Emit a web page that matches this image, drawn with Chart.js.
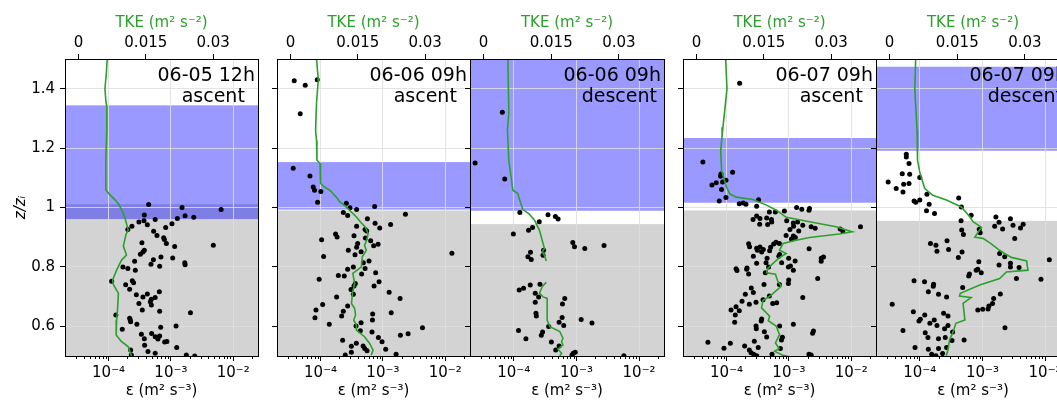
<!DOCTYPE html>
<html>
<head>
<meta charset="utf-8">
<script src="https://cdn.jsdelivr.net/npm/chart.js@4.4.0/dist/chart.umd.min.js"></script>
<style>
  html, body { margin: 0; padding: 0; background: #fff; }
  body { width: 1057px; height: 404px; overflow: hidden; position: relative; }
  .panel { position: absolute; top: 0; height: 404px; }
</style>
</head>
<body>
<script>
// ---- data ----
const dates = ['06-05 12h', '06-06 09h', '06-06 09h', '06-07 09h', '06-07 09h'];
const legs = ['ascent', 'ascent', 'descent', 'ascent', 'descent'];

// z/zi of the shaded layers
const grayTop = [1.011, 0.990, 0.944, 0.990, 0.955];
const blueBottom = [0.961, 0.993, 0.989, 1.016, 1.191];
const blueTop = [1.344, 1.153, 1.5, 1.234, 1.474];

const epsTicks = [1e-4, 1e-3, 1e-2];
const epsTickLabels = ['10⁻⁴', '10⁻³', '10⁻²'];
const tkeTicks = [0, 0.015, 0.03];
const tkeTickLabels = ['0', '0.015', '0.03'];
const zTicks = [0.6, 0.8, 1.0, 1.2, 1.4];
const zTickLabels = ['0.6', '0.8', '1', '1.2', '1.4'];
const minorMult = [2, 3, 4, 5, 6, 7, 8, 9];

// dissipation rate [eps, z/zi]
const eps1 = [[4.4e-4,1.010],[1.51e-3,1.000],[6.4e-3,0.993],[3.75e-4,0.975],[1.69e-3,0.972],[2.33e-3,0.967],[1.27e-3,0.963],[5.6e-4,0.960],[3.7e-4,0.955],[3.07e-4,0.951],[1.04e-3,0.945],[4.19e-4,0.942],[2.37e-4,0.937],[8.25e-4,0.933],[2.04e-4,0.926],[5.29e-4,0.920],[5.98e-4,0.906],[7.66e-4,0.898],[7.87e-4,0.892],[8.47e-4,0.879],[3.43e-4,0.881],[1.15e-3,0.869],[4.8e-3,0.873],[3.75e-4,0.856],[3.56e-4,0.850],[3.24e-4,0.843],[6.93e-4,0.833],[5.24e-4,0.824],[1.07e-3,0.830],[2.62e-4,0.819],[1.67e-3,0.814],[1.69e-3,0.807],[4.79e-4,0.809],[6.61e-4,0.802],[1.70e-4,0.800],[2.04e-4,0.795],[2.69e-4,0.789],[1.12e-4,0.752],[2.40e-4,0.753],[2.52e-4,0.747],[1.88e-4,0.740],[2.18e-4,0.725],[6.53e-4,0.716],[2.79e-4,0.706],[4.19e-4,0.709],[3.56e-4,0.699],[5.6e-4,0.697],[4.86e-4,0.691],[4.68e-4,0.683],[3.07e-4,0.677],[4.86e-4,0.672],[3.48e-4,0.655],[6.61e-4,0.651],[2.06e-3,0.646],[1.31e-4,0.638],[2.18e-4,0.627],[2.23e-4,0.621],[2.26e-4,0.615],[2.85e-4,0.607],[6.86e-4,0.597],[1.21e-3,0.601],[1.66e-4,0.590],[3.36e-4,0.573],[4.91e-4,0.576],[5.6e-4,0.565],[5.98e-4,0.563],[6.21e-4,0.557],[6.61e-4,0.567],[3.75e-4,0.558],[7.94e-4,0.547],[8.65e-4,0.549],[3.79e-4,0.536],[2.26e-4,0.520],[1.24e-3,0.529],[4.29e-4,0.515],[5.6e-4,0.509],[1.77e-3,0.503],[2.41e-3,0.500],[2.32e-4,0.503]];
const eps2 = [[3.78e-5,1.427],[5.68e-5,1.412],[8.85e-5,1.430],[4.72e-5,1.316],[3.64e-5,1.132],[6.76e-5,1.106],[7.63e-5,1.069],[8.0e-5,1.058],[1.01e-4,1.054],[8.95e-5,1.018],[2.59e-4,1.014],[2.97e-4,0.999],[3.79e-4,0.993],[7.38e-4,1.003],[2.32e-4,0.983],[2.72e-4,0.973],[2.30e-3,0.977],[5.64e-4,0.962],[7.5e-4,0.947],[8.89e-4,0.931],[1.33e-3,0.943],[3.79e-4,0.937],[5.18e-4,0.926],[5.5e-4,0.921],[1.74e-4,0.911],[1.84e-4,0.901],[3.44e-4,0.905],[5.24e-4,0.897],[6.37e-4,0.888],[3.94e-4,0.879],[3.79e-4,0.866],[7.11e-4,0.871],[8.38e-4,0.876],[1.04e-4,0.891],[2.79e-4,0.856],[4.47e-4,0.851],[3.57e-4,0.841],[1.12e-4,0.835],[6.0e-4,0.820],[4.86e-4,0.814],[1.28e-2,0.846],[3.36e-4,0.800],[2.72e-4,0.792],[5.18e-4,0.795],[7.66e-4,0.780],[4.56e-4,0.776],[1.93e-4,0.771],[2.40e-4,0.769],[9.5e-5,0.758],[8.69e-4,0.750],[7.22e-4,0.736],[3.61e-4,0.744],[3.44e-4,0.736],[3.08e-4,0.724],[1.26e-3,0.715],[3.36e-4,0.708],[1.81e-4,0.699],[1.89e-3,0.694],[1.08e-4,0.673],[2.72e-4,0.668],[2.32e-4,0.651],[8.43e-5,0.655],[1.36e-3,0.646],[6.86e-4,0.641],[2.18e-4,0.635],[8.13e-5,0.629],[6.8e-4,0.621],[1.38e-4,0.607],[4.47e-4,0.612],[3.71e-4,0.601],[4.32e-3,0.595],[4.35e-4,0.585],[6.7e-4,0.581],[2.54e-3,0.575],[1.91e-3,0.570],[8.47e-4,0.562],[2.26e-4,0.553],[9.7e-4,0.548],[3.75e-4,0.543],[3.12e-4,0.533],[4.81e-4,0.534],[5.1e-4,0.525],[1.11e-3,0.523],[3.12e-4,0.513],[5.57e-4,0.518],[1.63e-3,0.506],[2.49e-4,0.503]];
const eps3 = [[6.56e-5,1.321],[2.41e-5,1.150],[7.17e-5,1.096],[1.25e-4,0.983],[3.52e-4,0.976],[4.61e-4,0.970],[5.1e-4,0.961],[2.55e-4,0.952],[1.99e-4,0.933],[1.72e-4,0.923],[9.85e-5,0.911],[8.75e-4,0.882],[9.31e-4,0.868],[1.36e-3,0.862],[2.76e-3,0.872],[2.99e-4,0.856],[1.85e-4,0.849],[2.93e-4,0.839],[1.68e-4,0.834],[1.9e-4,0.825],[1.22e-4,0.722],[1.43e-4,0.728],[1.83e-4,0.739],[2.62e-4,0.742],[2.2e-4,0.711],[2.49e-4,0.699],[2.2e-4,0.681],[6.51e-4,0.694],[5.98e-4,0.675],[2.26e-4,0.644],[2.29e-4,0.635],[5.91e-4,0.630],[5.29e-4,0.614],[6.27e-4,0.603],[1.19e-3,0.623],[1.77e-3,0.611],[3.6e-4,0.599],[1.19e-4,0.586],[2.88e-4,0.581],[2.75e-4,0.570],[1.56e-4,0.558],[3.98e-4,0.547],[5.29e-4,0.534],[4.67e-4,0.520],[8.89e-4,0.509],[9.57e-4,0.513],[5.72e-3,0.501],[8.5e-4,0.503]];
const eps4 = [[1.62e-4,1.418],[4.17e-5,1.153],[1.25e-4,1.119],[8.13e-5,1.113],[8.0e-5,1.105],[9.78e-5,1.092],[8.63e-5,1.086],[6.83e-5,1.083],[5.82e-5,1.076],[8.31e-5,1.061],[9.78e-5,1.034],[7.63e-5,1.022],[1.6e-4,1.013],[1.85e-4,1.015],[2.05e-4,1.011],[3.27e-4,1.026],[3.04e-4,1.004],[4.86e-4,0.985],[8.47e-4,0.988],[6.07e-4,0.985],[1.33e-3,1.000],[1.61e-3,0.994],[2.14e-3,0.997],[2.1e-3,0.991],[3.04e-4,0.971],[2.66e-4,0.960],[3.44e-4,0.963],[4.4e-4,0.965],[5.24e-4,0.960],[3.4e-4,0.944],[4.56e-4,0.943],[5.3e-4,0.951],[9.22e-4,0.955],[1.18e-3,0.948],[1.38e-3,0.951],[1.19e-3,0.937],[1.67e-3,0.940],[1.44e-3,0.921],[1.04e-3,0.926],[2.28e-3,0.935],[2.64e-3,0.930],[1.18e-3,0.904],[1.27e-3,0.899],[9.02e-4,0.906],[1.1e-3,0.894],[6.65e-3,0.928],[7.33e-3,0.921],[1.41e-2,0.935],[6.22e-4,0.883],[7.04e-4,0.879],[5.7e-4,0.877],[2.26e-4,0.878],[2.34e-4,0.868],[3.04e-4,0.863],[3.44e-4,0.867],[3.12e-4,0.856],[3.89e-4,0.859],[5.1e-4,0.866],[3.66e-4,0.850],[4.91e-4,0.854],[2.11e-3,0.861],[2.69e-4,0.836],[4.47e-4,0.829],[7.11e-4,0.842],[6.9e-4,0.836],[9.93e-4,0.829],[3.04e-4,0.812],[4.3e-4,0.814],[4.73e-4,0.800],[7.66e-4,0.814],[1.06e-3,0.803],[3.3e-3,0.829],[3.59e-3,0.833],[1.42e-4,0.794],[2.13e-4,0.796],[9.82e-4,0.800],[1.26e-3,0.820],[3.3e-3,0.819],[1.47e-4,0.788],[2.1e-4,0.792],[2.26e-4,0.776],[4.19e-4,0.780],[1.18e-3,0.789],[2.9e-3,0.761],[9.93e-4,0.756],[9.82e-4,0.744],[7.04e-4,0.741],[3.99e-4,0.741],[2.49e-4,0.729],[2.69e-4,0.714],[2.0e-4,0.708],[4.86e-4,0.702],[1.67e-3,0.697],[1.77e-4,0.684],[2.32e-4,0.674],[2.97e-4,0.681],[3.85e-4,0.689],[1.42e-4,0.666],[1.18e-4,0.655],[1.6e-4,0.652],[1.38e-4,0.638],[1.35e-4,0.614],[3.66e-4,0.625],[3.6e-4,0.618],[5.5e-4,0.677],[6.37e-4,0.679],[2.97e-4,0.601],[3.0e-4,0.592],[4.04e-4,0.582],[4.4e-4,0.564],[7.11e-4,0.601],[1.18e-3,0.607],[2.48e-3,0.584],[2.4e-3,0.577],[7.87e-4,0.563],[7.6e-4,0.554],[2.79e-4,0.550],[1.95e-4,0.534],[5.02e-5,0.546],[1.15e-4,0.543],[9.08e-5,0.526],[2.32e-4,0.520],[2.47e-4,0.511],[3.22e-4,0.529],[7.3e-4,0.525],[2.72e-4,0.506],[2.1e-3,0.506],[2.28e-3,0.503],[5.37e-4,0.506],[3.04e-4,0.501]];
const eps5 = [[6.09e-5,1.179],[6.09e-5,1.170],[6.73e-5,1.148],[5.25e-5,1.114],[6.9e-5,1.112],[3.13e-5,1.086],[5.53e-5,1.078],[6.73e-5,1.081],[4.2e-5,1.064],[5.39e-5,1.052],[1.0e-4,1.101],[1.3e-4,1.045],[8.1e-5,1.022],[8.63e-5,1.018],[1.0e-4,1.025],[1.41e-4,1.011],[1.28e-4,0.989],[1.72e-4,0.980],[4.18e-4,1.032],[4.61e-4,1.002],[6.61e-4,0.974],[4.56e-4,0.955],[4.67e-4,0.924],[4.97e-4,0.909],[8.89e-4,0.927],[9.22e-4,0.915],[1.64e-3,0.968],[1.84e-3,0.950],[1.57e-3,0.937],[2.1e-3,0.928],[2.8e-3,0.962],[3.08e-3,0.940],[4.05e-3,0.931],[4.47e-3,0.944],[3.28e-3,0.896],[1.48e-4,0.879],[1.81e-4,0.873],[2.72e-4,0.888],[1.88e-4,0.853],[2.88e-4,0.859],[4.73e-4,0.850],[4.13e-4,0.832],[8.75e-4,0.817],[1.88e-3,0.845],[2.27e-3,0.834],[1.84e-3,0.806],[2.8e-3,0.812],[3.85e-3,0.798],[2.8e-3,0.800],[1.17e-2,0.824],[8.43e-4,0.792],[7.94e-4,0.789],[9.57e-4,0.780],[6.21e-4,0.776],[6.04e-4,0.769],[3.49e-3,0.761],[8.6e-3,0.758],[8.1e-5,0.753],[1.19e-4,0.750],[1.66e-4,0.742],[1.64e-4,0.735],[4.84e-4,0.731],[1.37e-4,0.716],[1.99e-4,0.708],[2.68e-4,0.699],[1.93e-3,0.709],[1.51e-3,0.694],[1.45e-3,0.677],[1.27e-3,0.668],[1.23e-3,0.658],[1.01e-3,0.657],[8.43e-4,0.655],[3.63e-5,0.674],[7.89e-5,0.649],[1.2e-4,0.638],[9.7e-5,0.618],[1.02e-4,0.624],[1.45e-4,0.610],[1.7e-4,0.621],[1.88e-4,0.603],[2.82e-4,0.635],[2.4e-4,0.644],[2.82e-4,0.603],[5.39e-5,0.586],[1.22e-4,0.578],[2.49e-4,0.592],[3.34e-4,0.581],[1.35e-4,0.562],[1.99e-4,0.558],[2.55e-4,0.562],[3.27e-4,0.552],[5.1e-4,0.554],[2.29e-3,0.595],[8.4e-5,0.529],[1.37e-4,0.523],[1.99e-4,0.525],[2.68e-4,0.529],[2.31e-4,0.508],[1.55e-4,0.506],[1.81e-4,0.501]];

// turbulent kinetic energy profile [TKE, z/zi]; null = gap
const tke1 = [[0.0064,1.50],[0.0062,1.45],[0.0059,1.40],[0.0061,1.36],[0.0063,1.34],[0.0063,1.26],[0.0061,1.16],[0.0061,1.06],[0.0066,1.05],[0.0072,1.04],[0.0082,1.025],[0.0090,1.01],[0.0097,0.99],[0.0104,0.963],[0.0108,0.94],[0.0111,0.924],[0.0106,0.91],[0.0100,0.87],[0.0107,0.84],[0.0096,0.823],[0.0085,0.789],[0.0076,0.756],[0.0078,0.74],[0.0089,0.711],[0.0087,0.655],[0.0085,0.62],[0.0084,0.571],[0.0095,0.55],[0.0111,0.531],[0.0118,0.50]];
const tke2 = [[0.0058,1.50],[0.0062,1.43],[0.0058,1.35],[0.0056,1.26],[0.0058,1.226],[0.0059,1.159],[0.0066,1.148],[0.0067,1.081],[0.0076,1.069],[0.0088,1.058],[0.0102,1.035],[0.0110,1.019],[0.0117,1.011],[0.0128,0.996],[0.0147,0.968],[0.0156,0.951],[0.0167,0.934],[0.0173,0.912],[0.0170,0.890],[0.0165,0.873],[0.0169,0.856],[0.0160,0.834],[0.0158,0.800],[0.0139,0.778],[0.0143,0.744],[0.0138,0.711],[0.0136,0.677],[0.0143,0.660],[0.0145,0.638],[0.0141,0.621],[0.0147,0.604],[0.0147,0.587],[0.0165,0.565],[0.0176,0.543],[0.0184,0.520],[0.0180,0.503]];
const tke3 = [[0.0054,1.50],[0.0056,1.32],[0.0053,1.26],[0.0056,1.159],[0.0065,1.058],[0.0076,1.047],[0.0078,1.035],[0.0087,0.993],[0.0101,0.979],[0.0113,0.957],[0.0124,0.923],[0.0130,0.890],[0.0135,0.862],[0.0130,0.851],[0.0135,0.839],[0.0139,0.820],null,[0.0139,0.748],[0.0130,0.733],[0.0124,0.711],[0.0132,0.699],[0.0141,0.694],[0.0141,0.655],[0.0141,0.621],[0.0147,0.599],[0.0169,0.582],[0.0176,0.560],[0.0173,0.548],[0.0176,0.537],[0.0165,0.523],[0.0173,0.509],[0.0169,0.501]];
const tke4 = [[0.0065,1.50],[0.0068,1.40],[0.0059,1.27],[0.0057,1.24],[0.0054,1.19],[0.0056,1.125],[0.0067,1.069],[0.0074,1.046],[0.0089,1.035],[0.0126,1.027],[0.0156,1.008],[0.0178,0.991],[0.0200,0.967],[0.0252,0.952],[0.0311,0.935],[0.0347,0.918],[0.0318,0.911],[0.0252,0.899],[0.0222,0.890],[0.0193,0.879],[0.0185,0.856],[0.0200,0.845],[0.0185,0.831],[0.0170,0.811],[0.0159,0.795],[0.0156,0.780],[0.0176,0.775],[0.0181,0.752],[0.0189,0.735],[0.0181,0.724],[0.0163,0.701],[0.0148,0.687],[0.0145,0.662],[0.0163,0.634],[0.0160,0.619],[0.0178,0.600],[0.0185,0.572],[0.0176,0.544],[0.0184,0.525],[0.0174,0.516],[0.0193,0.502],[0.0215,0.495]];
const tke5 = [[0.0058,1.50],[0.0056,1.40],[0.0061,1.26],[0.0061,1.19],[0.0063,1.159],[0.0067,1.119],[0.0078,1.064],[0.0096,1.041],[0.0126,1.025],[0.0159,1.002],[0.0178,0.969],[0.0185,0.952],[0.0204,0.933],[0.0200,0.924],[0.0189,0.900],[0.0207,0.896],[0.0224,0.879],[0.0244,0.856],[0.0255,0.845],[0.0270,0.832],[0.0304,0.820],[0.0305,0.806],[0.0307,0.789],[0.0259,0.783],[0.0244,0.761],[0.0200,0.739],[0.0157,0.711],[0.0155,0.702],[0.0181,0.697],[0.0163,0.677],[0.0167,0.621],[0.0147,0.610],[0.0141,0.582],[0.0133,0.554],[0.0130,0.526],[0.0126,0.501]];

const epsSets = [eps1, eps2, eps3, eps4, eps5];
const tkeSets = [tke1, tke2, tke3, tke4, tke5];

// ---- layout ----
const panelLeft = [65, 277, 470, 683, 876];
const panelWidth = [193, 193, 194, 193, 194];
const AXIS_W = 60;   // room for the y axis
const PAD_R = 8;
const H = 404;
const GREEN = '#2ca02c';
const GRID = 'rgba(222,222,222,0.85)';
const FONT = "'DejaVu Sans', sans-serif";

Chart.defaults.font.family = FONT;
Chart.defaults.color = '#000';

const tickFont = { size: 15 };

// bands, labels, frame and minor ticks
const panelDeco = {
    id: 'panelDeco',
    beforeDraw(chart, args, opts) {
        const i = opts.index;
        const { ctx, chartArea: a, scales: { y } } = chart;
        ctx.save();
        ctx.fillStyle = '#d3d3d3';
        const gy = y.getPixelForValue(grayTop[i]);
        ctx.fillRect(a.left, gy, a.right - a.left, a.bottom - gy);
        ctx.fillStyle = 'rgba(0,0,255,0.4)';
        const by1 = Math.max(a.top, y.getPixelForValue(blueTop[i]));
        const by0 = y.getPixelForValue(blueBottom[i]);
        ctx.fillRect(a.left, by1, a.right - a.left, by0 - by1);
        ctx.restore();
    },
    afterDatasetsDraw(chart, args, opts) {
        const i = opts.index;
        const { ctx, chartArea: a } = chart;
        ctx.save();
        ctx.font = '19px ' + FONT;
        ctx.fillStyle = '#000';
        ctx.textBaseline = 'alphabetic';
        const right = a.right - 3;
        const w1 = ctx.measureText(dates[i]).width;
        ctx.textAlign = 'right';
        ctx.fillText(dates[i], right, a.top + 22);
        ctx.textAlign = 'center';
        ctx.fillText(legs[i], right - w1 / 2 + 7, a.top + 43);
        ctx.restore();
    },
    afterDraw(chart) {
        const { ctx, chartArea: a, scales: { x } } = chart;
        ctx.save();
        ctx.strokeStyle = '#000';
        ctx.lineWidth = 1;
        // minor log ticks on the bottom axis
        ctx.beginPath();
        for (let d = -5; d <= -2; d++) {
            minorMult.forEach(m => {
                const v = m * Math.pow(10, d);
                if (v <= x.min || v >= x.max) return;
                const px = Math.round(x.getPixelForValue(v)) + 0.5;
                ctx.moveTo(px, a.bottom);
                ctx.lineTo(px, a.bottom + 3);
            });
        }
        ctx.stroke();
        ctx.strokeRect(Math.round(a.left) + 0.5, Math.round(a.top) + 0.5,
            Math.round(a.right - a.left), Math.round(a.bottom - a.top));
        ctx.restore();
    }
};

function makePanel(i) {
    const div = document.createElement('div');
    div.className = 'panel';
    const w = AXIS_W + panelWidth[i] + PAD_R;
    div.style.left = (panelLeft[i] - AXIS_W) + 'px';
    div.style.width = w + 'px';
    const canvas = document.createElement('canvas');
    canvas.width = w;
    canvas.height = H;
    canvas.style.width = w + 'px';
    canvas.style.height = H + 'px';
    div.appendChild(canvas);
    document.body.appendChild(div);

    const first = i === 0;

    new Chart(canvas, {
        type: 'scatter',
        data: {
            datasets: [
                {
                    label: 'TKE',
                    data: tkeSets[i].map(p => p ? { x: p[0], y: p[1] } : { x: null, y: null }),
                    xAxisID: 'x2',
                    yAxisID: 'y',
                    showLine: true,
                    spanGaps: false,
                    borderColor: GREEN,
                    borderWidth: 1.6,
                    pointRadius: 0,
                    tension: 0
                },
                {
                    label: 'eps',
                    data: epsSets[i].map(p => ({ x: p[0], y: p[1] })),
                    xAxisID: 'x',
                    yAxisID: 'y',
                    backgroundColor: '#000',
                    borderWidth: 0,
                    pointRadius: 2.5
                }
            ]
        },
        options: {
            responsive: false,
            animation: false,
            events: [],
            layout: { padding: { left: 0, right: PAD_R, top: 0, bottom: 0 } },
            plugins: {
                legend: { display: false },
                tooltip: { enabled: false },
                panelDeco: { index: i }
            },
            scales: {
                x: {
                    type: 'logarithmic',
                    position: 'bottom',
                    min: 2e-5,
                    max: 2.5e-2,
                    afterBuildTicks: s => { s.ticks = epsTicks.map(v => ({ value: v })); },
                    afterFit: s => { s.height = 48; },
                    ticks: {
                        autoSkip: false, maxRotation: 0, padding: 3, font: tickFont,
                        callback: (v, k) => epsTickLabels[k]
                    },
                    grid: { color: GRID, tickColor: '#000', tickLength: 5 },
                    border: { display: false },
                    title: {
                        display: true, text: 'ε (m² s⁻³)', font: tickFont,
                        padding: { top: 0, bottom: 4 }
                    }
                },
                x2: {
                    type: 'linear',
                    position: 'top',
                    min: -0.003,
                    max: 0.04,
                    afterBuildTicks: s => { s.ticks = tkeTicks.map(v => ({ value: v })); },
                    afterFit: s => { s.height = 59; },
                    ticks: {
                        autoSkip: false, maxRotation: 0, padding: 2, font: tickFont,
                        callback: (v, k) => tkeTickLabels[k]
                    },
                    grid: { drawOnChartArea: false, tickColor: '#000', tickLength: 5 },
                    border: { display: false },
                    title: {
                        display: true, text: 'TKE (m² s⁻²)', color: GREEN, font: tickFont,
                        padding: { top: 14, bottom: 0 }
                    }
                },
                y: {
                    type: 'linear',
                    position: 'left',
                    min: 0.5,
                    max: 1.5,
                    afterBuildTicks: s => { s.ticks = zTicks.map(v => ({ value: v })); },
                    afterFit: s => { s.width = AXIS_W; },
                    ticks: {
                        display: first, autoSkip: false, padding: 5, font: tickFont,
                        callback: (v, k) => zTickLabels[k]
                    },
                    grid: { color: GRID, tickColor: '#000', tickLength: 5 },
                    border: { display: false },
                    title: {
                        display: first, text: 'z/zᵢ', font: { size: 15, style: 'italic' },
                        padding: { top: 7, bottom: 0 }
                    }
                }
            }
        },
        plugins: [panelDeco]
    });
}

for (let i = 0; i < 5; i++) makePanel(i);
</script>
</body>
</html>
